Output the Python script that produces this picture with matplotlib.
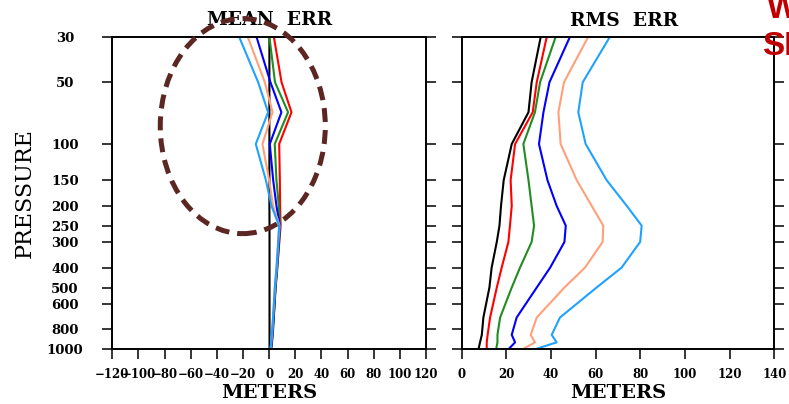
import matplotlib
matplotlib.use("Agg")
import matplotlib.pyplot as plt
from matplotlib.patches import Ellipse

# pressure levels (hPa)
levels = [1000, 925, 850, 700, 500, 400, 300, 250, 200, 150, 100, 70, 50, 30]

# mean error (meters)
mean_black = [0.3, 0.3, 0.3, 0.3, 0.3, 0.3, 0.3, 0.3, 0.2, 0.2, 0.2, 0.2, 0.2, 0.2]
mean_red = [1.4, 2.0, 2.6, 3.5, 4.9, 6.2, 7.8, 8.8, 8.4, 8.2, 7.7, 17.1, 9.5, 3.6]
mean_green = [1.6, 2.2, 2.8, 3.6, 5.0, 6.3, 7.6, 8.4, 7.4, 5.6, 4.3, 14.5, 4.5, 0.2]
mean_blue = [1.5, 2.0, 2.5, 3.4, 4.8, 6.0, 7.4, 8.2, 5.6, 3.1, 0.5, 9.4, 1.0, -9.7]
mean_salmon = [1.2, 1.6, 2.2, 3.0, 4.5, 5.8, 7.0, 8.0, 3.0, 0.0, -5.1, 2.6, -3.3, -16.4]
mean_lblue = [1.0, 1.5, 2.0, 3.0, 4.3, 5.6, 6.9, 7.6, 1.8, -2.5, -10.2, -0.8, -8.4, -23.0]

# rms error (meters)
rms_black = [7.5, 8.2, 9.0, 9.7, 12.4, 13.4, 15.7, 16.9, 17.6, 18.8, 22.4, 29.9, 31.3, 35.4]
rms_red = [11.2, 11.2, 11.6, 12.7, 15.7, 17.9, 20.9, 21.6, 22.4, 21.9, 23.9, 31.8, 33.6, 38.1]
rms_green = [15.4, 16.0, 16.0, 17.2, 22.4, 26.1, 31.3, 32.4, 31.3, 29.9, 27.6, 32.8, 35.1, 42.1]
rms_blue = [20.9, 23.9, 22.4, 24.6, 33.6, 39.6, 46.0, 46.6, 42.5, 38.4, 34.6, 36.6, 39.3, 48.5]
rms_salmon = [27.3, 32.8, 30.9, 33.6, 46.0, 55.2, 63.1, 63.4, 58.2, 51.5, 44.3, 43.3, 45.8, 56.7]
rms_lblue = [32.8, 42.5, 40.3, 44.0, 60.4, 71.6, 79.9, 80.6, 73.9, 64.9, 55.5, 52.2, 54.2, 66.4]

colors = ["black", "#ff0000", "#228b22", "#0000ff", "#ffa07a", "#1fa2ff"]
mean_series = [mean_black, mean_red, mean_green, mean_blue, mean_salmon, mean_lblue]
rms_series = [rms_black, rms_red, rms_green, rms_blue, rms_salmon, rms_lblue]

p_ticks = [30, 50, 100, 150, 200, 250, 300, 400, 500, 600, 800, 1000]
mean_xticks = list(range(-120, 121, 20))
rms_xticks = list(range(0, 141, 20))

serif = "DejaVu Serif"

fig = plt.figure(figsize=(7.89, 4.04), dpi=100)
ax1 = fig.add_axes([0.1423, 0.1354, 0.3976, 0.7738])
ax2 = fig.add_axes([0.5852, 0.1354, 0.3962, 0.7738])

for ax, series in [(ax1, mean_series), (ax2, rms_series)]:
    for vals, c in zip(series, colors):
        ax.plot(vals, levels, color=c, lw=1.5)
    ax.set_yscale("log")
    ax.set_ylim(1000, 30)
    ax.set_yticks(p_ticks)
    ax.minorticks_off()
    for s in ax.spines.values():
        s.set_linewidth(1.4)
    ax.tick_params(axis="both", direction="out", length=7.2, width=1.1)
    ax.tick_params(axis="y", left=True, right=True)
    ax.tick_params(axis="x", top=False, pad=6)
    ax.set_xlabel("METERS", family=serif, fontsize=14, fontweight="bold",
                  va="baseline")
    ax.xaxis.set_label_coords(0.5, -0.156)

ax1.set_xlim(-120, 120)
ax1.set_xticks(mean_xticks)
ax1.set_xticklabels([str(v).replace("-", "\u2212") for v in mean_xticks],
                    family=serif, fontweight="bold", fontsize=8.5)
ax1.set_yticklabels([str(p) for p in p_ticks], family=serif,
                    fontweight="bold", fontsize=9.5)
for lab in ax1.get_yticklabels():
    lab.set_ha("center")
ax1.tick_params(axis="y", pad=27)
ax1.set_ylabel("PRESSURE", family=serif, fontsize=16, va="center")
ax1.yaxis.set_label_coords(-0.2805, 0.5)
ax1.set_title("MEAN  ERR", family=serif, fontsize=13.5, fontweight="bold",
              y=1.037, pad=0)

ax2.set_xlim(0, 140)
ax2.set_xticks(rms_xticks)
ax2.set_xticklabels([str(v) for v in rms_xticks], family=serif,
                    fontweight="bold", fontsize=8.5)
ax2.set_yticklabels([])
ax2.set_title("RMS  ERR", family=serif, fontsize=13.5, fontweight="bold",
              x=0.52, y=1.034, pad=0)

# dashed highlight ellipse
ell = Ellipse((0.416, 0.714), 0.526, 0.688, transform=ax1.transAxes,
              fill=False, edgecolor="#5c2623", lw=3.6,
              linestyle=(0, (2.8, 1.6)), clip_on=False, zorder=10)
ax1.add_patch(ell)

# red annotation text cut off at the right edge
fig.text(767 / 789, 1 - 18 / 404, "WH", color="#c00000", fontsize=24,
         fontweight="bold", family="Liberation Sans", va="baseline")
fig.text(762 / 789, 1 - 55 / 404, "SH", color="#c00000", fontsize=24,
         fontweight="bold", family="Liberation Sans", va="baseline")

fig.savefig("out.png", dpi=100)
